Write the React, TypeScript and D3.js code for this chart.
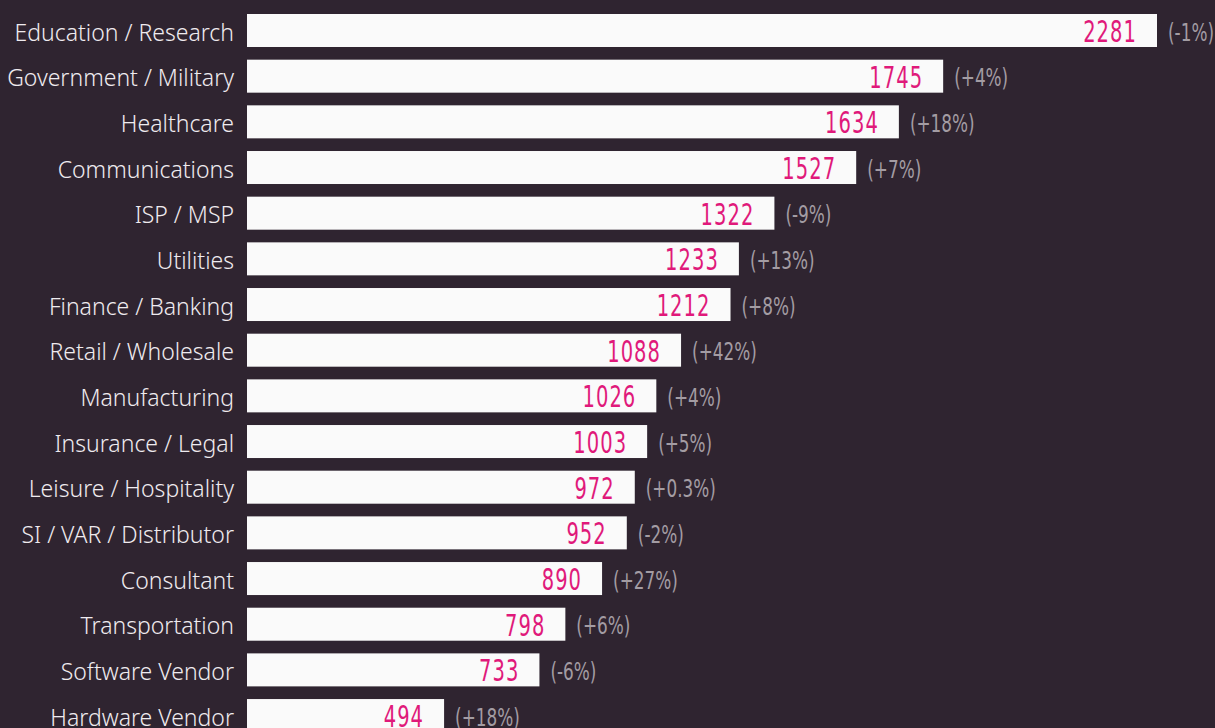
import React from "react";
import * as d3 from "d3";

const categories = [
  "Education / Research",
  "Government / Military",
  "Healthcare",
  "Communications",
  "ISP / MSP",
  "Utilities",
  "Finance / Banking",
  "Retail / Wholesale",
  "Manufacturing",
  "Insurance / Legal",
  "Leisure / Hospitality",
  "SI / VAR / Distributor",
  "Consultant",
  "Transportation",
  "Software Vendor",
  "Hardware Vendor",
];
const values = [2281, 1745, 1634, 1527, 1322, 1233, 1212, 1088, 1026, 1003, 972, 952, 890, 798, 733, 494];
const changes = ["-1%", "+4%", "+18%", "+7%", "-9%", "+13%", "+8%", "+42%", "+4%", "+5%", "+0.3%", "-2%", "+27%", "+6%", "-6%", "+18%"];

const W = 1215;
const H = 728;
const BG = "#2f2430";
const BAR = "#fafafa";
const MAGENTA = "#e0197a";
const GRAY = "#a39ca3";
const LABEL = "#efebef";

export default function App() {
  const x = d3.scaleLinear().domain([0, 2281]).range([247, 1157]);
  const step = 45.67;
  const barH = 33;
  const y = d3
    .scaleBand<string>()
    .domain(categories)
    .range([14, 14 + (categories.length - 1) * step + barH])
    .paddingInner(1 - barH / step)
    .paddingOuter(0)
    .align(0);
  const bh = y.bandwidth();
  return (
    <div style={{ position: "fixed", left: 0, top: 0, width: W, height: H }}>
      <svg width={W} height={H} style={{ display: "block", background: BG }}>
        <rect x={0} y={0} width={W} height={H} fill={BG} />
        {categories.map((c, i) => {
          const y0 = y(c) as number;
          const xe = x(values[i]);
          return (
            <g key={c}>
              <rect x={x(0)} y={y0} width={xe - x(0)} height={bh} fill={BAR} />
              <text
                x={234}
                y={y0 + 26.5}
                textAnchor="end"
                fill={LABEL}
                style={{ fontFamily: "'Noto Sans', sans-serif", fontSize: 23, fontWeight: 300 }}
              >
                {c}
              </text>
              <text
                transform={`translate(${xe - 20},${y0 + 28}) scale(0.7,1)`}
                textAnchor="end"
                fill={MAGENTA}
                style={{ fontFamily: "'Liberation Sans Narrow', 'DejaVu Sans Condensed', sans-serif", fontSize: 31, letterSpacing: 1.5 }}
              >
                {values[i]}
              </text>
              <text
                transform={`translate(${xe + 11},${y0 + 26.5}) scale(0.75,1)`}
                textAnchor="start"
                fill={GRAY}
                style={{ fontFamily: "'Liberation Sans Narrow', 'DejaVu Sans Condensed', sans-serif", fontSize: 25 }}
              >
                ({changes[i]})
              </text>
            </g>
          );
        })}
      </svg>
    </div>
  );
}
